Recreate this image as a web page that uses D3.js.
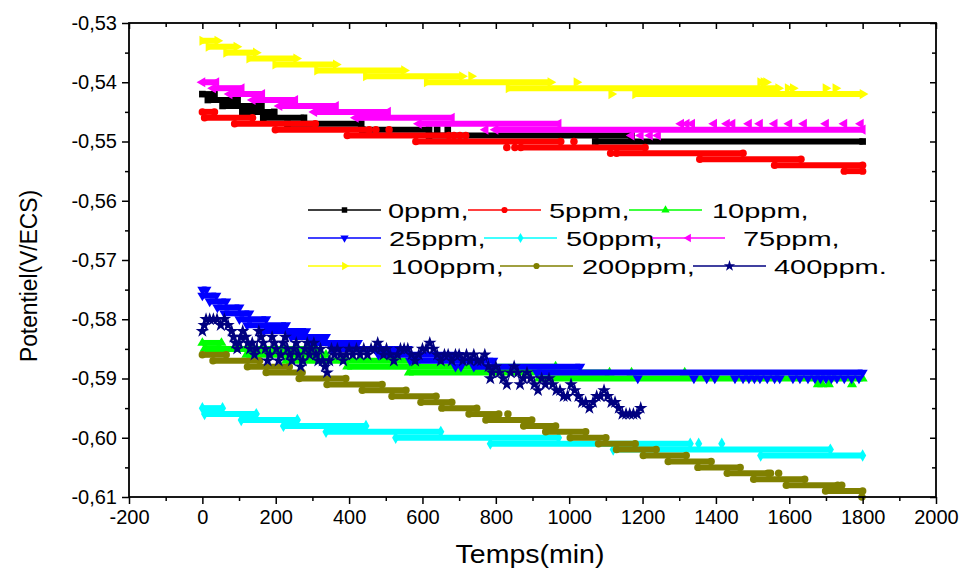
<!DOCTYPE html>
<html><head><meta charset="utf-8">
<script src="https://cdn.jsdelivr.net/npm/d3@7"></script>
<style>
body{margin:0;background:#fff}
svg{display:block}
text{font-family:"Liberation Sans",Arial,sans-serif;fill:#000}
</style>
</head><body>
<svg id="chart" width="967" height="569"></svg>
<script>
// ---------------- DATA ----------------
// Each run: [startTime(min), endTime(min), potential(V)] ; points: [time, potential]
const seriesNames = ["0ppm,", "5ppm,", "10ppm,", "25ppm,", "50ppm,", "75ppm,", "100ppm,", "200ppm,", "400ppm."];
const seriesColors = ["#000000", "#ff0000", "#00ff00", "#0000ff", "#00ffff", "#ff00ff", "#ffff00", "#808000", "#000080"];
const seriesSymbols = ["square", "circle", "triangleUp", "triangleDown", "diamond", "triangleLeft", "triangleRight", "circle", "star"];

const runs0ppm = [[0,33,-0.542],[15,96,-0.543],[55,161,-0.544],[109,196,-0.545],[166,277,-0.546],[232,433,-0.547],[436,618,-0.548],[618,1170,-0.549],[1071,1800,-0.550]];
const pts0ppm = [[640,-0.548],[669,-0.548]];

const runs5ppm = [[0,33,-0.545],[6,137,-0.546],[88,308,-0.547],[199,455,-0.548],[395,672,-0.549],[582,977,-0.550],[868,1207,-0.551],[1129,1474,-0.552],[1356,1632,-0.553],[1560,1800,-0.554],[1750,1800,-0.555]];
const pts5ppm = [[473,-0.548],[509,-0.548],[686,-0.549],[702,-0.549],[718,-0.549],[1013,-0.550],[830,-0.551],[852,-0.551],[1113,-0.552]];

const runs10ppm = [[0,52,-0.584],[6,310,-0.585],[120,337,-0.586],[228,582,-0.587],[395,963,-0.588],[563,1110,-0.589],[917,1800,-0.590]];
const pts10ppm = [[1170,-0.589],[1315,-0.589],[1678,-0.591],[1690,-0.591],[1708,-0.591],[1771,-0.591]];

const runs25ppm = [[0,11,-0.575],[0,38,-0.576],[20,65,-0.577],[41,101,-0.578],[60,128,-0.579],[101,174,-0.580],[122,228,-0.581],[168,283,-0.582],[242,337,-0.583],[298,424,-0.584],[354,560,-0.585],[480,700,-0.586],[566,793,-0.587],[740,1030,-0.588],[912,1800,-0.589]];
const pts25ppm = [[690,-0.588],[705,-0.588],[1187,-0.590],[1340,-0.590],[1375,-0.590],[1397,-0.590],[1452,-0.590],[1474,-0.590],[1490,-0.590],[1505,-0.590],[1520,-0.590],[1540,-0.590],[1560,-0.590],[1574,-0.590],[1610,-0.590],[1629,-0.590],[1651,-0.590],[1670,-0.590],[1685,-0.590],[1700,-0.590],[1715,-0.590],[1730,-0.590],[1750,-0.590],[1770,-0.590],[1790,-0.590]];

const runs50ppm = [[0,55,-0.595],[6,147,-0.596],[106,259,-0.597],[221,446,-0.598],[337,650,-0.599],[527,971,-0.600],[785,1330,-0.601],[1120,1712,-0.602],[1522,1800,-0.603]];
const pts50ppm = [[1353,-0.601],[1416,-0.601]];

const runs75ppm = [[0,38,-0.540],[29,107,-0.541],[74,163,-0.542],[137,253,-0.543],[210,364,-0.544],[305,506,-0.545],[418,680,-0.546],[590,971,-0.547],[799,1800,-0.548]];
const pts75ppm = [[772,-0.548],[1170,-0.549],[1195,-0.549],[1220,-0.549],[1242,-0.549],[1305,-0.547],[1320,-0.547],[1335,-0.547],[1395,-0.547],[1430,-0.547],[1445,-0.547],[1490,-0.547],[1520,-0.547],[1560,-0.547],[1600,-0.547],[1640,-0.547],[1700,-0.547],[1750,-0.547],[1795,-0.547]];

const runs100ppm = [[0,41,-0.533],[17,93,-0.534],[65,146,-0.535],[128,256,-0.536],[199,364,-0.537],[313,550,-0.538],[446,708,-0.539],[612,949,-0.540],[835,1570,-0.541],[1180,1800,-0.542]];
const pts100ppm = [[733,-0.539],[1020,-0.540],[1521,-0.540],[1530,-0.540],[1537,-0.540],[1596,-0.541],[1610,-0.541],[1699,-0.541],[1726,-0.541],[1115,-0.542]];

const runs200ppm = [[0,65,-0.586],[29,156,-0.587],[123,237,-0.588],[174,272,-0.589],[264,391,-0.590],[340,490,-0.591],[436,555,-0.592],[517,637,-0.593],[596,680,-0.594],[653,748,-0.595],[727,808,-0.596],[773,898,-0.597],[876,963,-0.598],[936,1045,-0.599],[1003,1100,-0.600],[1080,1180,-0.601],[1129,1237,-0.602],[1202,1319,-0.603],[1270,1387,-0.604],[1351,1466,-0.605],[1431,1542,-0.606],[1503,1642,-0.607],[1592,1732,-0.608],[1699,1800,-0.609]];
const pts200ppm = [[833,-0.596],[1549,-0.606],[1571,-0.606],[1743,-0.608],[1798,-0.610]];

// 400 ppm: noisy record, read point by point
const time400ppm = [0,5,10,20,30,40,50,60,70,80,85,90,95,100,105,110,118,124,130,136,142,148,154,160,166,172,178,184,190,196,202,208,214,220,226,232,238,244,250,256,262,268,274,280,286,292,298,304,310,316,322,328,334,340,346,352,360,368,376,384,392,400,410,420,430,440,450,460,470,478,486,494,502,512,522,532,540,550,560,570,580,590,600,610,620,630,640,650,660,670,680,690,700,710,720,730,740,750,760,770,780,785,790,800,810,820,830,840,850,860,866,875,885,895,905,915,925,935,945,955,965,975,985,995,1005,1015,1025,1035,1045,1055,1065,1075,1085,1095,1105,1115,1125,1135,1145,1155,1165,1175,1185,1195];
const value400ppm = [-0.582,-0.581,-0.580,-0.580,-0.580,-0.580,-0.581,-0.580,-0.581,-0.582,-0.583,-0.584,-0.585,-0.584,-0.583,-0.582,-0.583,-0.584,-0.585,-0.584,-0.586,-0.585,-0.582,-0.583,-0.584,-0.585,-0.587,-0.586,-0.583,-0.584,-0.585,-0.587,-0.586,-0.584,-0.583,-0.585,-0.586,-0.587,-0.585,-0.584,-0.586,-0.588,-0.587,-0.585,-0.584,-0.586,-0.585,-0.584,-0.586,-0.587,-0.585,-0.587,-0.588,-0.589,-0.587,-0.585,-0.586,-0.585,-0.586,-0.587,-0.586,-0.585,-0.586,-0.585,-0.586,-0.585,-0.586,-0.585,-0.585,-0.584,-0.585,-0.586,-0.585,-0.586,-0.587,-0.586,-0.585,-0.585,-0.585,-0.586,-0.587,-0.586,-0.585,-0.585,-0.584,-0.585,-0.586,-0.587,-0.586,-0.586,-0.587,-0.586,-0.586,-0.587,-0.586,-0.587,-0.586,-0.587,-0.587,-0.586,-0.588,-0.590,-0.589,-0.588,-0.589,-0.590,-0.591,-0.589,-0.588,-0.589,-0.591,-0.590,-0.589,-0.590,-0.591,-0.592,-0.590,-0.591,-0.590,-0.591,-0.592,-0.592,-0.593,-0.593,-0.591,-0.592,-0.593,-0.594,-0.594,-0.595,-0.594,-0.593,-0.593,-0.592,-0.593,-0.594,-0.594,-0.595,-0.596,-0.596,-0.596,-0.596,-0.596,-0.595];

const xTicks = [-200,0,200,400,600,800,1000,1200,1400,1600,1800,2000];
const yTicks = [-0.53,-0.54,-0.55,-0.56,-0.57,-0.58,-0.59,-0.60,-0.61];
const xLabel = "Temps(min)";
const yLabel = "Potentiel(V/ECS)";

// ---------------- CHART ----------------
const svg = d3.select("#chart");
const P = {l:129, r:936, t:23, b:497};
const x = d3.scaleLinear().domain([-200,2000]).range([P.l,P.r]);
const y = d3.scaleLinear().domain([-0.61,-0.53]).range([P.b,P.t]);

const symTypes = {
  square: [d3.symbolSquare,0], circle: [d3.symbolCircle,0], triangleUp:[d3.symbolTriangle,0],
  triangleDown:[d3.symbolTriangle,180], diamond:[d3.symbolDiamond,0], triangleLeft:[d3.symbolTriangle,-90],
  triangleRight:[d3.symbolTriangle,90], star:[d3.symbolStar,0]
};
function sym(name,size){ return d3.symbol().type(symTypes[name][0]).size(size)(); }

const series = [
  {runs:runs0ppm, pts:pts0ppm},
  {runs:runs5ppm, pts:pts5ppm},
  {runs:runs10ppm, pts:pts10ppm},
  {runs:runs25ppm, pts:pts25ppm},
  {runs:runs50ppm, pts:pts50ppm},
  {runs:runs75ppm, pts:pts75ppm},
  {runs:runs100ppm, pts:pts100ppm},
  {runs:runs200ppm, pts:pts200ppm},
  {points:time400ppm.map((t,i)=>[t,value400ppm[i]])}
];

const plot = svg.append("g");
series.forEach((s,i)=>{
  const col = seriesColors[i], sname = seriesSymbols[i];
  const g = plot.append("g");
  const msize = 44;
  if (s.runs) {
    g.selectAll("line.run").data(s.runs).join("line")
      .attr("x1",d=>x(d[0])).attr("x2",d=>x(d[1]))
      .attr("y1",d=>y(d[2])).attr("y2",d=>y(d[2]))
      .attr("stroke",col).attr("stroke-width",6).attr("stroke-linecap","butt");
    const ends = [];
    s.runs.forEach(r=>{ends.push([r[0],r[2]]); ends.push([r[1],r[2]]);});
    g.selectAll("path.end").data(ends.concat(s.pts)).join("path")
      .attr("d",sym(sname,msize)).attr("fill",col)
      .attr("transform",d=>`translate(${x(d[0])},${y(d[1])}) rotate(${symTypes[sname][1]})`);
  } else {
    g.append("path").datum(s.points)
      .attr("d",d3.line().x(d=>x(d[0])).y(d=>y(d[1])))
      .attr("fill","none").attr("stroke",col).attr("stroke-width",1);
    g.selectAll("path.pt").data(s.points).join("path")
      .attr("d",sym(sname,56)).attr("fill",col)
      .attr("transform",d=>`translate(${x(d[0])},${y(d[1])})`);
  }
});

// axes
const fmtY = d=>d.toFixed(2).replace(".",",");
const xMinor = d3.range(-100,2000,200);
const yMinor = d3.range(0,8).map(i=>-0.535-0.01*i);
function styleAxis(g){ g.select(".domain").remove(); g.selectAll("line").attr("stroke","#000").attr("stroke-width",1.5);
  g.selectAll("text").style("font-family",'"Liberation Sans",Arial,sans-serif').style("font-size","20px").attr("fill","#000"); }

svg.append("g").attr("transform",`translate(0,${P.b})`)
  .call(d3.axisBottom(x).tickValues(xTicks).tickSize(7).tickPadding(6).tickFormat(d=>d)).call(styleAxis);
svg.append("g").attr("transform",`translate(0,${P.b})`)
  .call(d3.axisBottom(x).tickValues(xMinor).tickSize(4).tickFormat("")).call(styleAxis);
svg.append("g").attr("transform",`translate(0,${P.t})`)
  .call(d3.axisTop(x).tickValues(xTicks).tickSize(-6).tickFormat("")).call(styleAxis);
svg.append("g").attr("transform",`translate(0,${P.t})`)
  .call(d3.axisTop(x).tickValues(xMinor).tickSize(-4).tickFormat("")).call(styleAxis);
svg.append("g").attr("transform",`translate(${P.l},0)`)
  .call(d3.axisLeft(y).tickValues(yTicks).tickSize(7).tickPadding(5).tickFormat(fmtY)).call(styleAxis);
svg.append("g").attr("transform",`translate(${P.l},0)`)
  .call(d3.axisLeft(y).tickValues(yMinor).tickSize(4).tickFormat("")).call(styleAxis);
svg.append("g").attr("transform",`translate(${P.r},0)`)
  .call(d3.axisRight(y).tickValues(yTicks).tickSize(-6).tickFormat("")).call(styleAxis);
svg.append("g").attr("transform",`translate(${P.r},0)`)
  .call(d3.axisRight(y).tickValues(yMinor).tickSize(-4).tickFormat("")).call(styleAxis);

svg.append("rect").attr("x",P.l).attr("y",P.t).attr("width",P.r-P.l).attr("height",P.b-P.t)
  .attr("fill","none").attr("stroke","#000").attr("stroke-width",1.8);

svg.append("text").attr("x",530).attr("y",563).attr("text-anchor","middle")
  .style("font-size","25px").attr("textLength",149).attr("lengthAdjust","spacingAndGlyphs").text(xLabel);
svg.append("text").attr("transform",`translate(37,276) rotate(-90)`).attr("text-anchor","middle")
  .style("font-size","23px").attr("textLength",172).attr("lengthAdjust","spacingAndGlyphs").text(yLabel);

// legend
const legRows = [210,238,266];
const legLayout = [[[308,388],[468,549],[629,712]],[[308,389],[484,566],[652,743]],[[308,391],[500,582],[693,774]]];
const leg = svg.append("g");
seriesNames.forEach((name,i)=>{
  const r = Math.floor(i/3), c = i%3;
  const [lx,tx] = legLayout[r][c];
  const ly = legRows[r];
  const lw = 73;
  leg.append("line").attr("x1",lx).attr("x2",lx+lw).attr("y1",ly).attr("y2",ly)
    .attr("stroke",seriesColors[i]).attr("stroke-width",1.5);
  leg.append("path").attr("d",sym(seriesSymbols[i],i===8?40:30)).attr("fill",seriesColors[i])
    .attr("transform",`translate(${lx+lw/2},${ly}) rotate(${symTypes[seriesSymbols[i]][1]})`);
  leg.append("text").attr("transform",`translate(${tx},${ly+8}) scale(1.38,1)`).style("font-size","21px").text(name);
});
</script>
</body></html>
